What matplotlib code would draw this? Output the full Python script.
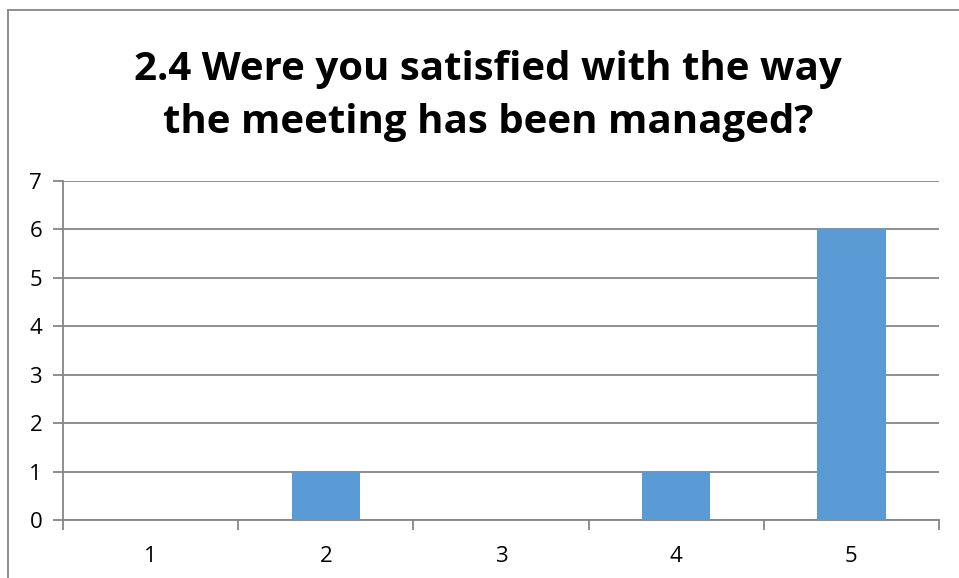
import matplotlib.pyplot as plt
from matplotlib.lines import Line2D

categories = ["1", "2", "3", "4", "5"]
counts = [0, 1, 0, 1, 6]
title = "2.4 Were you satisfied with the way\nthe meeting has been managed?"

plt.rcParams['font.family'] = ['Open Sans', 'DejaVu Sans']

fig = plt.figure(figsize=(9.59, 5.78), dpi=100)
ax = fig.add_axes([63/959, 1 - 520/578, (939 - 63)/959, (520 - 181)/578])

x = range(len(categories))
ax.bar(x, counts, width=0.39, color="#5B9BD5", zorder=3)

ax.set_xlim(-0.5, len(categories) - 0.5)
ax.set_ylim(0, 7)
ax.set_yticks(range(8))
ax.set_xticks(list(x))
ax.set_xticklabels(categories)
# tick marks between categories
ax.set_xticks([i - 0.5 for i in range(len(categories) + 1)], minor=True)
ax.tick_params(axis="x", which="major", length=0, pad=19, labelsize=16)
ax.tick_params(axis="x", which="minor", length=7, color="#868686", width=1.3)
ax.tick_params(axis="y", length=7, color="#868686", width=1.3, labelsize=16, pad=8)

ax.grid(axis="y", color="#868686", linewidth=1.3, zorder=0)
for s in ["top", "right"]:
    ax.spines[s].set_visible(False)
for s in ["left", "bottom"]:
    ax.spines[s].set_color("#868686")
    ax.spines[s].set_linewidth(1.3)

fig.text(488/959, 1 - 96/578, title, ha="center", va="center",
         fontsize=29, fontweight="bold", linespacing=1.45)

# chart border
fig.add_artist(Line2D([8/959, 8/959], [0, 1 - 10/578], color="#868686", linewidth=1.3))
fig.add_artist(Line2D([8/959, 1], [1 - 10/578, 1 - 10/578], color="#868686", linewidth=1.3))

fig.savefig("out.png", dpi=100)
